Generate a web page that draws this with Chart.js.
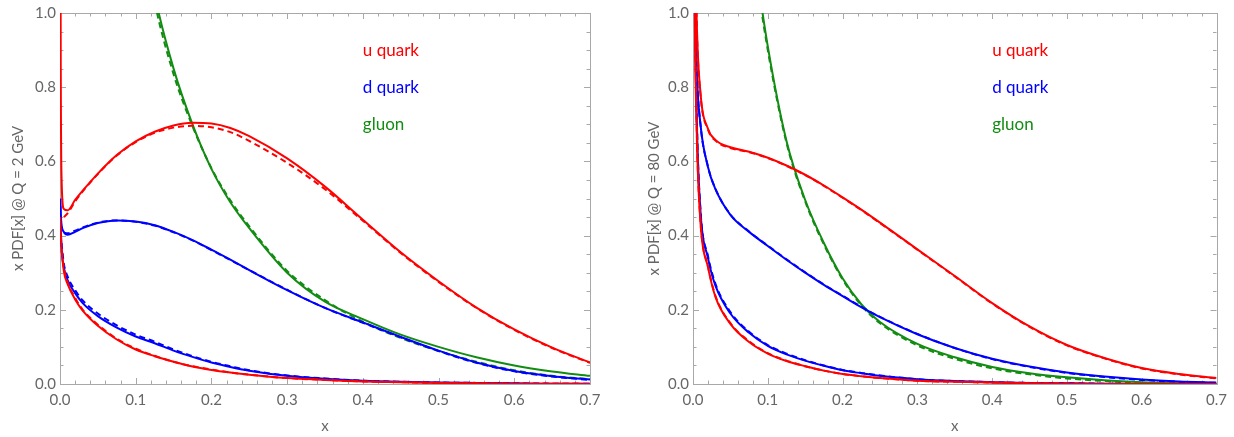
<!DOCTYPE html>
<html>
<head>
<meta charset="utf-8">
<script src="https://cdn.jsdelivr.net/npm/chart.js@4.4.0/dist/chart.umd.min.js"></script>
<style>
  html, body { margin: 0; padding: 0; background: #fff; }
  #wrap { position: relative; width: 1234px; height: 437px; }
  canvas { position: absolute; top: 0; }
</style>
</head>
<body>
<div id="wrap">
  <canvas id="chartQ2" width="617" height="437" style="left:0"></canvas>
  <canvas id="chartQ80" width="617" height="437" style="left:617px"></canvas>
</div>
<script>
// x grid shared by every curve
const xs = [0.0005, 0.001, 0.002, 0.005, 0.01, 0.02, 0.03, 0.05, 0.075, 0.1, 0.125, 0.15, 0.175,
            0.2, 0.225, 0.25, 0.3, 0.35, 0.4, 0.45, 0.5, 0.55, 0.6, 0.65, 0.7];

const xTicks = [0, 0.1, 0.2, 0.3, 0.4, 0.5, 0.6, 0.7];
const yTicks = [0, 0.2, 0.4, 0.6, 0.8, 1.0];
const labels = ["u quark", "d quark", "gluon"];

// Q = 2 GeV
const uQ2      = [1.4, 0.85, 0.56, 0.472, 0.468, 0.496, 0.521, 0.567, 0.617, 0.654, 0.68, 0.697, 0.704, 0.702, 0.69, 0.668, 0.608, 0.532, 0.443, 0.355, 0.277, 0.206, 0.147, 0.098, 0.058];
const uQ2b     = [null, null, null, 0.45, 0.46, 0.492, 0.519, 0.566, 0.616, 0.652, 0.677, 0.691, 0.696, 0.692, 0.679, 0.655, 0.596, 0.525, 0.44, 0.353, 0.275, 0.205, 0.146, 0.097, 0.057];
const ubarQ2   = [0.45, 0.41, 0.37, 0.305, 0.27, 0.228, 0.198, 0.157, 0.12, 0.093, 0.075, 0.06, 0.047, 0.038, 0.031, 0.025, 0.016, 0.011, 0.007, 0.005, 0.003, 0.002, 0.001, 0.001, 0.0];
const ubarQ2b  = [null, null, 0.36, 0.315, 0.275, 0.232, 0.2, 0.16, 0.122, 0.095, 0.076, 0.06, 0.048, 0.039, 0.031, 0.025, 0.016, 0.011, 0.007, 0.005, 0.003, 0.002, 0.001, 0.001, 0.0];
const dQ2      = [0.5, 0.46, 0.43, 0.41, 0.402, 0.41, 0.42, 0.434, 0.441, 0.438, 0.428, 0.41, 0.388, 0.362, 0.335, 0.307, 0.253, 0.205, 0.166, 0.127, 0.09, 0.058, 0.035, 0.021, 0.012];
const dQ2b     = [null, null, null, 0.408, 0.406, 0.413, 0.422, 0.435, 0.441, 0.437, 0.427, 0.409, 0.387, 0.361, 0.334, 0.307, 0.254, 0.205, 0.165, 0.126, 0.089, 0.057, 0.034, 0.02, 0.011];
const dbarQ2   = [0.48, 0.43, 0.37, 0.315, 0.28, 0.245, 0.218, 0.183, 0.152, 0.128, 0.11, 0.09, 0.073, 0.058, 0.046, 0.036, 0.022, 0.014, 0.009, 0.006, 0.004, 0.003, 0.002, 0.001, 0.001];
const dbarQ2b  = [null, null, 0.38, 0.325, 0.29, 0.253, 0.225, 0.19, 0.158, 0.133, 0.114, 0.093, 0.075, 0.06, 0.048, 0.037, 0.023, 0.015, 0.009, 0.006, 0.004, 0.003, 0.002, 0.001, 0.001];
const gQ2      = [null, null, null, null, null, null, null, null, null, 1.35, 1.05, 0.85, 0.7, 0.58, 0.49, 0.42, 0.3, 0.222, 0.175, 0.133, 0.1, 0.072, 0.05, 0.034, 0.022];
const gQ2b     = [null, null, null, null, null, null, null, null, null, 1.32, 1.03, 0.835, 0.695, 0.582, 0.495, 0.425, 0.305, 0.226, 0.168, 0.124, 0.089, 0.06, 0.037, 0.022, 0.013];

// Q = 80 GeV
const uQ80     = [2.1, 1.7, 1.35, 0.98, 0.785, 0.688, 0.658, 0.638, 0.626, 0.61, 0.589, 0.564, 0.535, 0.503, 0.47, 0.435, 0.363, 0.291, 0.218, 0.155, 0.105, 0.07, 0.043, 0.027, 0.016];
const uQ80b    = [null, null, 1.33, 0.97, 0.78, 0.686, 0.656, 0.636, 0.625, 0.609, 0.588, 0.563, 0.534, 0.502, 0.469, 0.434, 0.362, 0.29, 0.217, 0.154, 0.104, 0.069, 0.042, 0.026, 0.015];
const ubarQ80  = [2.2, 1.6, 1.1, 0.68, 0.435, 0.315, 0.235, 0.162, 0.113, 0.082, 0.062, 0.048, 0.036, 0.027, 0.021, 0.016, 0.009, 0.006, 0.004, 0.002, 0.001, 0, 0, 0, 0];
const ubarQ80b = [null, null, 1.1, 0.69, 0.44, 0.318, 0.238, 0.164, 0.115, 0.083, 0.063, 0.048, 0.036, 0.027, 0.021, 0.016, 0.009, 0.006, 0.004, 0.002, 0.001, 0, 0, 0, 0];
const dQ80     = [1.9, 1.5, 1.15, 0.85, 0.7, 0.585, 0.525, 0.456, 0.41, 0.372, 0.335, 0.3, 0.267, 0.237, 0.207, 0.18, 0.134, 0.097, 0.068, 0.047, 0.031, 0.02, 0.012, 0.007, 0.004];
const dQ80b    = [null, null, 1.14, 0.85, 0.7, 0.586, 0.526, 0.457, 0.411, 0.373, 0.336, 0.301, 0.268, 0.238, 0.208, 0.181, 0.135, 0.097, 0.067, 0.046, 0.03, 0.019, 0.011, 0.006, 0.003];
const dbarQ80  = [2.2, 1.65, 1.15, 0.72, 0.465, 0.34, 0.265, 0.19, 0.138, 0.103, 0.08, 0.063, 0.049, 0.037, 0.029, 0.022, 0.013, 0.008, 0.005, 0.003, 0.002, 0.001, 0, 0, 0];
const dbarQ80b = [null, null, 1.16, 0.73, 0.47, 0.345, 0.27, 0.194, 0.141, 0.105, 0.082, 0.064, 0.05, 0.038, 0.03, 0.023, 0.013, 0.008, 0.005, 0.003, 0.002, 0.001, 0, 0, 0];
const gQ80     = [null, null, null, null, null, null, null, null, 1.25, 0.91, 0.655, 0.496, 0.38, 0.285, 0.215, 0.167, 0.108, 0.072, 0.046, 0.029, 0.018, 0.01, 0.005, 0.002, 0.001];
const gQ80b    = [null, null, null, null, null, null, null, null, 1.23, 0.9, 0.65, 0.492, 0.376, 0.282, 0.212, 0.164, 0.104, 0.068, 0.042, 0.026, 0.015, 0.008, 0.003, 0.001, 0.0];

const RED = "#ff0000", BLUE = "#0000ff", GREEN = "#128c12";
const GRAY = "#666666", FRAME = "#a8a8a8";
const FONT = "Lato, 'Open Sans', sans-serif";

function pts(ys) {
  return xs.map((x, i) => ({ x: x, y: ys[i] }));
}

function line(ys, color, dashed) {
  return {
    data: pts(ys),
    borderColor: color,
    borderWidth: 2,
    borderDash: dashed ? [6, 4] : [],
    pointRadius: 0,
    cubicInterpolationMode: "monotone",
    fill: false,
  };
}

// frame with inward ticks on all four sides (Mathematica style)
const frameTicks = {
  id: "frameTicks",
  beforeDatasetsDraw(chart) {
    const { ctx, chartArea: a, scales: { x, y } } = chart;
    ctx.save();
    ctx.strokeStyle = FRAME;
    ctx.lineWidth = 1;
    ctx.beginPath();
    for (let i = 0; i <= 35; i++) {
      const px = Math.round(x.getPixelForValue(i * 0.02)) + 0.5;
      const len = i % 5 === 0 ? 6 : 3.5;
      ctx.moveTo(px, a.bottom); ctx.lineTo(px, a.bottom - len);
      ctx.moveTo(px, a.top); ctx.lineTo(px, a.top + len);
    }
    for (let i = 0; i <= 20; i++) {
      const py = Math.round(y.getPixelForValue(i * 0.05)) + 0.5;
      const len = i % 4 === 0 ? 6 : 3.5;
      ctx.moveTo(a.left, py); ctx.lineTo(a.left + len, py);
      ctx.moveTo(a.right, py); ctx.lineTo(a.right - len, py);
    }
    ctx.stroke();
    ctx.strokeRect(Math.round(a.left) + 0.5, Math.round(a.top) + 0.5,
                   Math.round(a.width), Math.round(a.height));
    ctx.restore();
  }
};

// curve labels placed in data coordinates
const curveLabels = {
  id: "curveLabels",
  afterDatasetsDraw(chart) {
    const { ctx, scales: { x, y } } = chart;
    const colors = [RED, BLUE, GREEN];
    ctx.save();
    ctx.font = "17px " + FONT;
    ctx.textAlign = "left";
    ctx.textBaseline = "middle";
    labels.forEach((t, i) => {
      ctx.fillStyle = colors[i];
      ctx.fillText(t, x.getPixelForValue(0.4), y.getPixelForValue(0.9 - i * 0.1));
    });
    ctx.restore();
  }
};

function makeChart(id, yTitle, sets, yWidth, titlePad, rightPad) {
  return new Chart(document.getElementById(id), {
    type: "line",
    data: {
      datasets: [
        line(sets[0], RED, false), line(sets[1], RED, true),
        line(sets[2], RED, false), line(sets[3], RED, true),
        line(sets[4], BLUE, false), line(sets[5], BLUE, true),
        line(sets[6], BLUE, false), line(sets[7], BLUE, true),
        line(sets[8], GREEN, false), line(sets[9], GREEN, true),
      ],
    },
    options: {
      responsive: false,
      animation: false,
      layout: { padding: { top: 13, right: rightPad, left: 0, bottom: 0 } },
      plugins: { legend: { display: false }, tooltip: { enabled: false } },
      scales: {
        x: {
          type: "linear",
          min: 0,
          max: 0.7,
          afterFit: (s) => { s.height = 53; },
          afterBuildTicks: (s) => { s.ticks = xTicks.map((v) => ({ value: v })); },
          grid: { display: false, drawTicks: false },
          border: { display: false },
          ticks: {
            autoSkip: false,
            maxRotation: 0,
            padding: 7,
            color: GRAY,
            font: { family: FONT, size: 15 },
            callback: (v) => v.toFixed(1),
          },
          title: {
            display: true,
            text: "x",
            color: GRAY,
            font: { family: FONT, size: 15 },
            padding: { top: 0, bottom: 2 },
          },
        },
        y: {
          min: 0,
          max: 1,
          afterFit: (s) => { s.width = yWidth; },
          afterBuildTicks: (s) => { s.ticks = yTicks.map((v) => ({ value: v })); },
          grid: { display: false, drawTicks: false },
          border: { display: false },
          ticks: {
            padding: 4,
            color: GRAY,
            font: { family: FONT, size: 15 },
            callback: (v) => v.toFixed(1),
          },
          title: {
            display: true,
            text: yTitle,
            color: GRAY,
            font: { family: FONT, size: 15 },
            padding: { top: titlePad, bottom: 0 },
          },
        },
      },
    },
    plugins: [frameTicks, curveLabels],
  });
}

makeChart("chartQ2", "x PDF[x] @ Q = 2 GeV",
  [uQ2, uQ2b, ubarQ2, ubarQ2b, dQ2, dQ2b, dbarQ2, dbarQ2b, gQ2, gQ2b], 60, 9, 27);
makeChart("chartQ80", "x PDF[x] @ Q = 80 GeV",
  [uQ80, uQ80b, ubarQ80, ubarQ80b, dQ80, dQ80b, dbarQ80, dbarQ80b, gQ80, gQ80b], 76, 28, 10);
</script>
</body>
</html>
